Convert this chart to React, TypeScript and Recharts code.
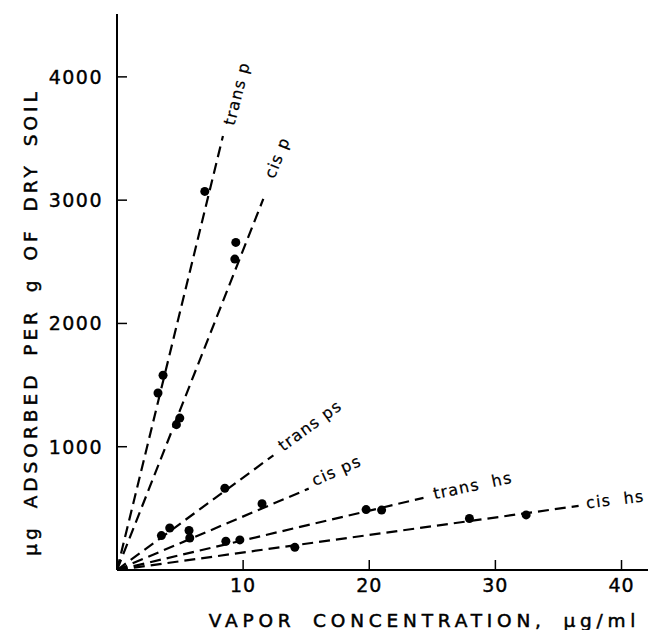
import React from 'react';
import { ComposedChart, Line, Scatter, XAxis, YAxis } from 'recharts';

// measured points, one array per isomer
const transP = [{ x: 3.25, y: 1436 }, { x: 3.65, y: 1580 }, { x: 6.96, y: 3071 }];
const cisP = [{ x: 4.71, y: 1179 }, { x: 4.98, y: 1232 }, { x: 9.34, y: 2522 }, { x: 9.42, y: 2657 }];
const transPs = [{ x: 3.52, y: 279 }, { x: 4.18, y: 341 }, { x: 8.55, y: 663 }];
const cisPs = [{ x: 5.71, y: 320 }, { x: 5.77, y: 260 }, { x: 11.5, y: 537 }];
const transHs = [{ x: 8.63, y: 233 }, { x: 9.74, y: 244 }, { x: 19.75, y: 490 }, { x: 20.98, y: 486 }];
const cisHs = [{ x: 14.1, y: 184 }, { x: 27.94, y: 418 }, { x: 32.44, y: 447 }];

// fitted lines through the origin
const transPLine = [{ x: 0, y: 0 }, { x: 8.4, y: 3520 }];
const cisPLine = [{ x: 0, y: 0 }, { x: 11.6, y: 3010 }];
const transPsLine = [{ x: 0, y: 0 }, { x: 12.4, y: 930 }];
const cisPsLine = [{ x: 0, y: 0 }, { x: 15.2, y: 660 }];
const transHsLine = [{ x: 0, y: 0 }, { x: 24.3, y: 585 }];
const cisHsLine = [{ x: 0, y: 0 }, { x: 36.6, y: 520 }];

const lineLabels = [
  { x: 9.5, y: 3865, text: 'trans p', angle: -76 },
  { x: 12.7, y: 3345, text: 'cis p', angle: -68 },
  { x: 15.3, y: 1172, text: 'trans ps', angle: -36 },
  { x: 17.4, y: 807, text: 'cis ps', angle: -24 },
  { x: 28.2, y: 685, text: 'trans\u00a0\u00a0hs', angle: -12 },
  { x: 39.5, y: 572, text: 'cis\u00a0\u00a0hs', angle: -7 },
];

const xTicks = [10, 20, 30, 40];
const yTicks = [1000, 2000, 3000, 4000];

const FONT = '"DejaVu Sans", sans-serif';
const DASH = '11 6';

const Dot = (p: any) => <circle cx={p.cx} cy={p.cy} r={4.5} fill="#000" />;

const LabelShape = (p: any) => (
  <text
    x={p.cx}
    y={p.cy}
    textAnchor="middle"
    dominantBaseline="central"
    fontFamily={FONT}
    fontSize={16}
    letterSpacing={1.2}
    fill="#000"
    stroke="#000"
    strokeWidth={0.2}
    transform={`rotate(${p.payload.angle}, ${p.cx}, ${p.cy})`}
  >
    {p.payload.text}
  </text>
);

const YTick = (p: any) => (
  <g>
    <line x1={p.x + 14} x2={p.x + 24} y1={p.y} y2={p.y} stroke="#000" strokeWidth={1.5} />
    <text x={p.x} y={p.y} dy="0.36em" textAnchor="end" fontFamily={FONT} fontSize={19} letterSpacing={1.5} fill="#000" stroke="#000" strokeWidth={0.4}>
      {p.payload.value}
    </text>
  </g>
);

const XTick = (p: any) => (
  <g>
    <line x1={p.x} x2={p.x} y1={p.y - 8} y2={p.y - 18} stroke="#000" strokeWidth={1.5} />
    <text x={p.x} y={p.y} dy={14} textAnchor="middle" fontFamily={FONT} fontSize={19} letterSpacing={1} fill="#000" stroke="#000" strokeWidth={0.4}>
      {p.payload.value}
    </text>
  </g>
);

export default function App() {
  const lines = [transPLine, cisPLine, transPsLine, cisPsLine, transHsLine, cisHsLine];
  const points = [transP, cisP, transPs, cisPs, transHs, cisHs];

  return (
    <div style={{ position: 'fixed', left: 0, top: 0, background: '#fff' }}>
      <ComposedChart width={650} height={630} margin={{ top: 14, right: 2, left: 0, bottom: 0 }}>
        <XAxis
          type="number"
          dataKey="x"
          domain={[0, 42.1]}
          ticks={xTicks}
          height={60}
          tickSize={0}
          tickMargin={8}
          tick={XTick}
          axisLine={{ stroke: '#000', strokeWidth: 2 }}
          allowDataOverflow
          label={(props: any) => {
            const vb = props.viewBox;
            return (
              <text
                x={vb.x + vb.width / 2 + 42}
                y={vb.y + 57}
                textAnchor="middle"
                fontFamily={FONT}
                fontSize={18.5}
                letterSpacing={4.8}
                wordSpacing={7}
                fill="#000"
                stroke="#000"
                strokeWidth={0.5}
              >
                VAPOR CONCENTRATION, μg/ml
              </text>
            );
          }}
        />
        <XAxis xAxisId="top" orientation="top" type="number" domain={[0, 42.1]} height={0} tick={false} tickLine={false} axisLine={{ stroke: '#000', strokeWidth: 1 }} />
        <YAxis
          type="number"
          dataKey="y"
          domain={[0, 4510]}
          ticks={yTicks}
          width={117}
          tickSize={0}
          tickMargin={14}
          tick={YTick}
          axisLine={{ stroke: '#000', strokeWidth: 2 }}
          allowDataOverflow
          label={(props: any) => {
            const vb = props.viewBox;
            const cx = vb.x + 30;
            const cy = vb.y + vb.height / 2 + 30;
            return (
              <text
                x={cx}
                y={cy}
                textAnchor="middle"
                dominantBaseline="central"
                fontFamily={FONT}
                fontSize={18.5}
                letterSpacing={4}
                wordSpacing={6}
                fill="#000"
                stroke="#000"
                strokeWidth={0.5}
                transform={`rotate(-90, ${cx}, ${cy})`}
              >
                μg ADSORBED PER g OF DRY SOIL
              </text>
            );
          }}
        />
        <YAxis yAxisId="right" orientation="right" type="number" domain={[0, 4510]} width={0} tick={false} tickLine={false} axisLine={{ stroke: '#000', strokeWidth: 1 }} />

        {lines.map((d, i) => (
          <Line
            key={`l${i}`}
            data={d}
            dataKey="y"
            type="linear"
            stroke="#000"
            strokeWidth={2.2}
            strokeDasharray={DASH}
            dot={false}
            activeDot={false}
            isAnimationActive={false}
          />
        ))}
        {points.map((d, i) => (
          <Scatter key={`p${i}`} data={d} dataKey="y" shape={Dot} isAnimationActive={false} />
        ))}
        <Scatter data={lineLabels} dataKey="y" shape={LabelShape} isAnimationActive={false} />
      </ComposedChart>
    </div>
  );
}
